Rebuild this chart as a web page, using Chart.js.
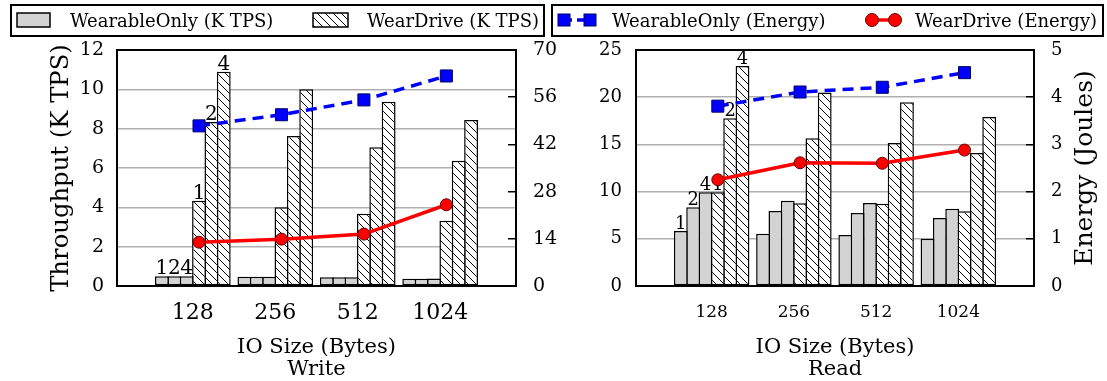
<!DOCTYPE html>
<html lang="en">
<head>
<meta charset="UTF-8">
<title>WearDrive throughput and energy</title>
<script src="https://cdn.jsdelivr.net/npm/chart.js@4"></script>
<style>
  body { margin: 0; background: #fff; }
  #wrap { position: relative; width: 1107px; height: 381px; overflow: hidden; font-family: "DejaVu Serif", serif; }
  canvas { position: absolute; top: 0; }
  .box { position: absolute; top: 4px; height: 29px; border: 2px solid #000; }
  .lbl { position: absolute; top: 4px; line-height: 33px; font-size: 18px; white-space: nowrap; color: #000; }
</style>
</head>
<body>
<div id="wrap">
  <canvas id="writeChart" width="560" height="381" style="left:0"></canvas>
  <canvas id="readChart" width="547" height="381" style="left:560px"></canvas>
  <div class="box" style="left:10px;width:531px"></div>
  <div class="box" style="left:551px;width:549px"></div>
  <canvas id="legendIcons" width="1107" height="40" style="left:0"></canvas>
  <span class="lbl" style="left:70px">WearableOnly (K TPS)</span>
  <span class="lbl" style="left:367px">WearDrive (K TPS)</span>
  <span class="lbl" style="left:612px">WearableOnly (Energy)</span>
  <span class="lbl" style="left:915px">WearDrive (Energy)</span>
</div>

<script>
// categories
const ioSizes = ['128', '256', '512', '1024'];
const threadCounts = ['1', '2', '4'];

// Write: throughput (K TPS) per thread count
const writeOnly1 = [0.50, 0.47, 0.44, 0.37];
const writeOnly2 = [0.50, 0.47, 0.44, 0.37];
const writeOnly4 = [0.50, 0.47, 0.44, 0.38];
const writeDrive1 = [4.34, 4.00, 3.68, 3.32];
const writeDrive2 = [8.34, 7.63, 7.05, 6.37];
const writeDrive4 = [10.90, 10.00, 9.37, 8.44];
// Write: energy (Joules)
const writeEnergyOnly = [47.5, 50.8, 55.2, 62.3];
const writeEnergyDrive = [13.0, 13.9, 15.4, 24.1];

// Read: throughput (K TPS) per thread count
const readOnly1 = [5.83, 5.54, 5.40, 5.01];
const readOnly2 = [8.33, 7.94, 7.73, 7.20];
const readOnly4 = [9.92, 9.04, 8.79, 8.19];
const readDrive1 = [9.92, 8.76, 8.72, 7.91];
const readDrive2 = [17.76, 15.64, 15.15, 14.09];
const readDrive4 = [23.30, 20.50, 19.46, 17.90];
// Read: energy (Joules)
const readEnergyOnly = [3.81, 4.11, 4.21, 4.52];
const readEnergyDrive = [2.25, 2.61, 2.60, 2.88];

const FONT = 'DejaVu Serif';
const LINE_SHIFT = 0.075; // energy markers sit over the first WearDrive bar

function makeHatch() {
    const c = document.createElement('canvas');
    c.width = 8; c.height = 8;
    const g = c.getContext('2d');
    g.fillStyle = '#fff';
    g.fillRect(0, 0, 8, 8);
    g.strokeStyle = '#000';
    g.lineWidth = 1;
    g.beginPath();
    g.moveTo(-1, -1); g.lineTo(9, 9);
    g.stroke();
    return g.createPattern(c, 'repeat');
}
const hatch = makeHatch();

// numbers over the first group + frame + optional right title
const decor = {
    id: 'decor',
    beforeDraw(chart) { chart.$labelsDone = false; },
    beforeDatasetDraw(chart, args, opts) {
        if (chart.$labelsDone || args.meta.type !== 'line') return;
        chart.$labelsDone = true;
        const ctx = chart.ctx;
        ctx.save();
        ctx.font = opts.labelSize + 'px "' + FONT + '"';
        ctx.fillStyle = '#000';
        ctx.textAlign = 'center';
        ctx.textBaseline = 'alphabetic';
        for (let k = 0; k < 6; k++) {
            const bar = chart.getDatasetMeta(k).data[0];
            ctx.fillText(threadCounts[k % 3], bar.x, bar.y - 2);
        }
        ctx.restore();
    },
    afterDraw(chart, args, opts) {
        const {ctx, chartArea: a} = chart;
        ctx.save();
        ctx.strokeStyle = '#000';
        ctx.lineWidth = 2;
        ctx.strokeRect(a.left, a.top, a.right - a.left, a.bottom - a.top);
        if (opts.rightTitle) {
            ctx.translate(opts.rightTitleX, (a.top + a.bottom) / 2);
            ctx.rotate(-Math.PI / 2);
            ctx.font = '25px "' + FONT + '"';
            ctx.fillStyle = '#000';
            ctx.textAlign = 'center';
            ctx.textBaseline = 'middle';
            ctx.fillText(opts.rightTitle, 0, 0);
        }
        ctx.restore();
    }
};

function panel(id, p) {
    const bars = [p.only1, p.only2, p.only4, p.drive1, p.drive2, p.drive4];
    const datasets = bars.map((vals, k) => ({
        type: 'bar',
        label: (k < 3 ? 'WearableOnly ' : 'WearDrive ') + threadCounts[k % 3],
        data: vals.map((v, i) => ({x: i, y: v})),
        backgroundColor: k < 3 ? '#d3d3d3' : hatch,
        borderColor: '#000',
        borderWidth: 1.5,
        borderSkipped: false,
        categoryPercentage: 0.9,
        barPercentage: 1.12, // neighbours share one edge line
        yAxisID: 'y',
        order: 2
    }));
    datasets.push({
        type: 'line',
        label: 'WearableOnly (Energy)',
        data: p.energyOnly.map((v, i) => ({x: i + LINE_SHIFT, y: v})),
        borderColor: '#0000ff',
        borderWidth: 3.5,
        borderDash: [11, 7],
        pointStyle: 'rect',
        pointRadius: 8.5,
        pointBackgroundColor: '#0000ff',
        pointBorderColor: '#000066',
        pointBorderWidth: 1,
        yAxisID: 'y1',
        order: 1
    });
    datasets.push({
        type: 'line',
        label: 'WearDrive (Energy)',
        data: p.energyDrive.map((v, i) => ({x: i + LINE_SHIFT, y: v})),
        borderColor: '#ff0000',
        borderWidth: 3.5,
        pointStyle: 'circle',
        pointRadius: 6,
        pointBackgroundColor: '#ff0000',
        pointBorderColor: '#660000',
        pointBorderWidth: 1,
        yAxisID: 'y1',
        order: 1
    });

    return new Chart(document.getElementById(id), {
        type: 'bar',
        data: {datasets},
        plugins: [decor],
        options: {
            responsive: false,
            animation: false,
            events: [],
            layout: {padding: {top: 50, left: 0, right: 0, bottom: 0}},
            plugins: {
                legend: {display: false},
                tooltip: {enabled: false},
                decor: {labelSize: p.labelSize, rightTitle: p.rightTitle, rightTitleX: p.rightTitleX}
            },
            scales: {
                x: {
                    type: 'linear', min: -0.92, max: 3.92, offset: false,
                    afterBuildTicks: s => { s.ticks = ioSizes.map((_, i) => ({value: i})); },
                    afterFit: s => { s.height = 95; },
                    grid: {display: false, drawTicks: false, offset: false},
                    border: {display: false},
                    ticks: {
                        callback: v => ioSizes[v], autoSkip: false, maxRotation: 0,
                        color: '#000', padding: p.xTickPad, font: {family: FONT, size: p.xTickSize}
                    },
                    title: {
                        display: true, text: ['IO Size (Bytes)', p.name], color: '#000',
                        font: {family: FONT, size: 21, lineHeight: 1.07}, padding: {top: 0, bottom: 0}
                    }
                },
                y: {
                    position: 'left', min: 0, max: p.yMax,
                    afterFit: s => { s.width = p.leftWidth; },
                    grid: {color: '#b0b0b0', lineWidth: 1.5, drawTicks: false},
                    border: {display: false},
                    ticks: {stepSize: p.yStep, color: '#000', padding: p.yTickPad, font: {family: FONT, size: p.yTickSize}},
                    title: {
                        display: !!p.leftTitle, text: p.leftTitle || '', color: '#000',
                        font: {family: FONT, size: 24.3}, padding: {top: 47.4, bottom: 0}
                    }
                },
                y1: {
                    position: 'right', min: 0, max: p.eMax,
                    afterFit: s => { s.width = p.rightWidth; },
                    grid: {drawOnChartArea: false, drawTicks: true, tickLength: -8, color: '#000', lineWidth: 1.5},
                    border: {display: false},
                    ticks: {stepSize: p.eStep, color: '#000', padding: 25, font: {family: FONT, size: p.yTickSize}}
                }
            }
        }
    });
}

panel('writeChart', {
    name: 'Write',
    only1: writeOnly1, only2: writeOnly2, only4: writeOnly4,
    drive1: writeDrive1, drive2: writeDrive2, drive4: writeDrive4,
    energyOnly: writeEnergyOnly, energyDrive: writeEnergyDrive,
    yMax: 12, yStep: 2, eMax: 70, eStep: 14,
    leftWidth: 117, rightWidth: 44,
    leftTitle: 'Throughput (K TPS)',
    xTickSize: 22, xTickPad: 14, yTickSize: 19, yTickPad: 13, labelSize: 20
});

panel('readChart', {
    name: 'Read',
    only1: readOnly1, only2: readOnly2, only4: readOnly4,
    drive1: readDrive1, drive2: readDrive2, drive4: readDrive4,
    energyOnly: readEnergyOnly, energyDrive: readEnergyDrive,
    yMax: 25, yStep: 5, eMax: 5, eStep: 1,
    leftWidth: 76, rightWidth: 73,
    rightTitle: 'Energy (Joules)', rightTitleX: 525,
    xTickSize: 17, xTickPad: 16, yTickSize: 18, yTickPad: 14, labelSize: 18
});

// legend icons
(function drawLegendIcons() {
    const ctx = document.getElementById('legendIcons').getContext('2d');
    ctx.lineWidth = 1.5;
    ctx.strokeStyle = '#000';
    ctx.fillStyle = '#d3d3d3';
    ctx.fillRect(17, 13, 33, 14);
    ctx.strokeRect(17, 13, 33, 14);
    ctx.fillStyle = hatch;
    ctx.fillRect(313, 13, 35, 14);
    ctx.strokeRect(313, 13, 35, 14);

    ctx.strokeStyle = '#0000ff';
    ctx.lineWidth = 3.5;
    ctx.setLineDash([8, 5]);
    ctx.beginPath(); ctx.moveTo(564, 20); ctx.lineTo(590, 20); ctx.stroke();
    ctx.setLineDash([]);
    ctx.fillStyle = '#0000ff';
    ctx.strokeStyle = '#000066';
    ctx.lineWidth = 1;
    [564, 590].forEach(x => { ctx.fillRect(x - 6, 14, 12, 12); ctx.strokeRect(x - 6, 14, 12, 12); });

    ctx.strokeStyle = '#ff0000';
    ctx.lineWidth = 3.5;
    ctx.beginPath(); ctx.moveTo(872, 20); ctx.lineTo(895, 20); ctx.stroke();
    ctx.fillStyle = '#ff0000';
    ctx.strokeStyle = '#660000';
    ctx.lineWidth = 1;
    [872, 895].forEach(x => { ctx.beginPath(); ctx.arc(x, 20, 6.5, 0, Math.PI * 2); ctx.fill(); ctx.stroke(); });
})();
</script>
</body>
</html>
